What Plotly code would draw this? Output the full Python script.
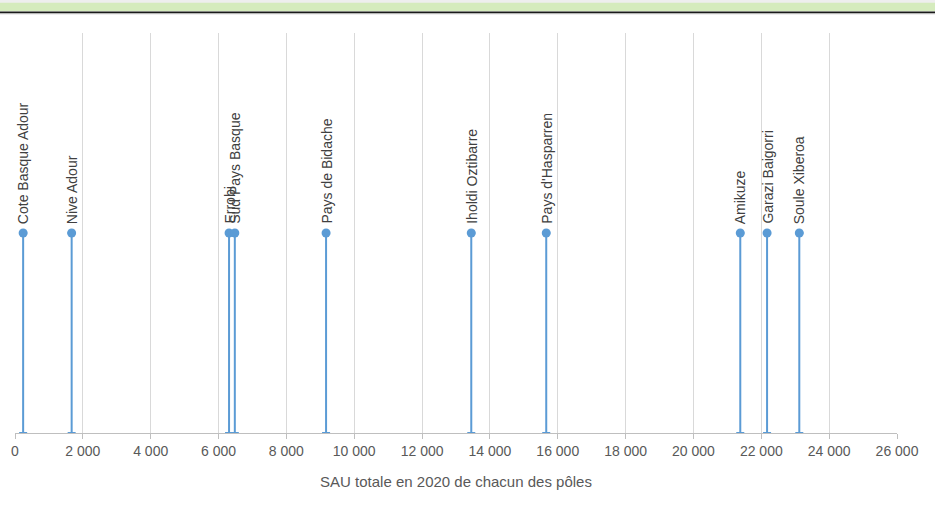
import plotly.graph_objects as go

# pôles et SAU totale 2020 (ha)
poles = [
    "Cote Basque Adour", "Nive Adour", "Errobi", "Sud Pays Basque",
    "Pays de Bidache", "Iholdi Oztibarre", "Pays d'Hasparren",
    "Amikuze", "Garazi Baigorri", "Soule Xiberoa",
]
sau_2020 = [240, 1670, 6310, 6480, 9170, 13450, 15660, 21380, 22170, 23120]
niveau = [1] * len(poles)

x_ticks = list(range(0, 26001, 2000))

blue = "#5b9bd5"
font_fam = "Liberation Sans, Arial, sans-serif"

fig = go.Figure()
fig.add_trace(go.Scatter(
    x=sau_2020,
    y=niveau,
    mode="markers",
    marker=dict(color=blue, size=9),
    error_y=dict(
        type="data", symmetric=False,
        array=[0] * len(poles), arrayminus=niveau,
        color=blue, thickness=2, width=4,
    ),
    hovertext=poles,
    showlegend=False,
))

for name, x, y in zip(poles, sau_2020, niveau):
    fig.add_annotation(
        x=x, y=y, text=name, showarrow=False,
        textangle=-90, yanchor="bottom", xanchor="center",
        yshift=7,
        font=dict(family=font_fam, size=14, color="#404040"),
    )

# bandeau vert en haut de l'image
fig.add_shape(type="rect", xref="paper", yref="paper",
              x0=-0.02, x1=1.05, y0=1.0745, y1=1.09,
              fillcolor="#eeeeee", line_width=0, layer="below")
fig.add_shape(type="rect", xref="paper", yref="paper",
              x0=-0.02, x1=1.05, y0=1.0545, y1=1.0755,
              fillcolor="#d5ebbd", line_width=0, layer="below")
fig.add_shape(type="line", xref="paper", yref="paper",
              x0=-0.02, x1=1.05, y0=1.0515, y1=1.0515,
              line=dict(color="#1a1a1a", width=2))
fig.add_shape(type="line", xref="paper", yref="paper",
              x0=-0.02, x1=1.05, y0=1.048, y1=1.048,
              line=dict(color="#c8c8c8", width=1))

fig.update_xaxes(
    range=[0, 26000],
    tickvals=x_ticks,
    tickformat=",d",
    showgrid=True, gridcolor="#d9d9d9", gridwidth=1,
    zeroline=False,
    showline=True, linecolor="#bfbfbf", linewidth=1,
    ticks="outside", ticklen=5, tickcolor="#bfbfbf",
    tickfont=dict(family=font_fam, size=14, color="#595959"),
    title=dict(text="SAU totale en 2020 de chacun des pôles",
               font=dict(family=font_fam, size=15, color="#595959"),
               standoff=18),
)
fig.update_yaxes(range=[0, 2], visible=False, showgrid=False)

fig.update_layout(
    width=935, height=512,
    separators=", ",
    paper_bgcolor="white",
    plot_bgcolor="white",
    margin=dict(l=15, r=38, t=33, b=79),
)

fig.write_html("out.html", config={"displayModeBar": False},
               post_script="document.body.style.margin='0';")
